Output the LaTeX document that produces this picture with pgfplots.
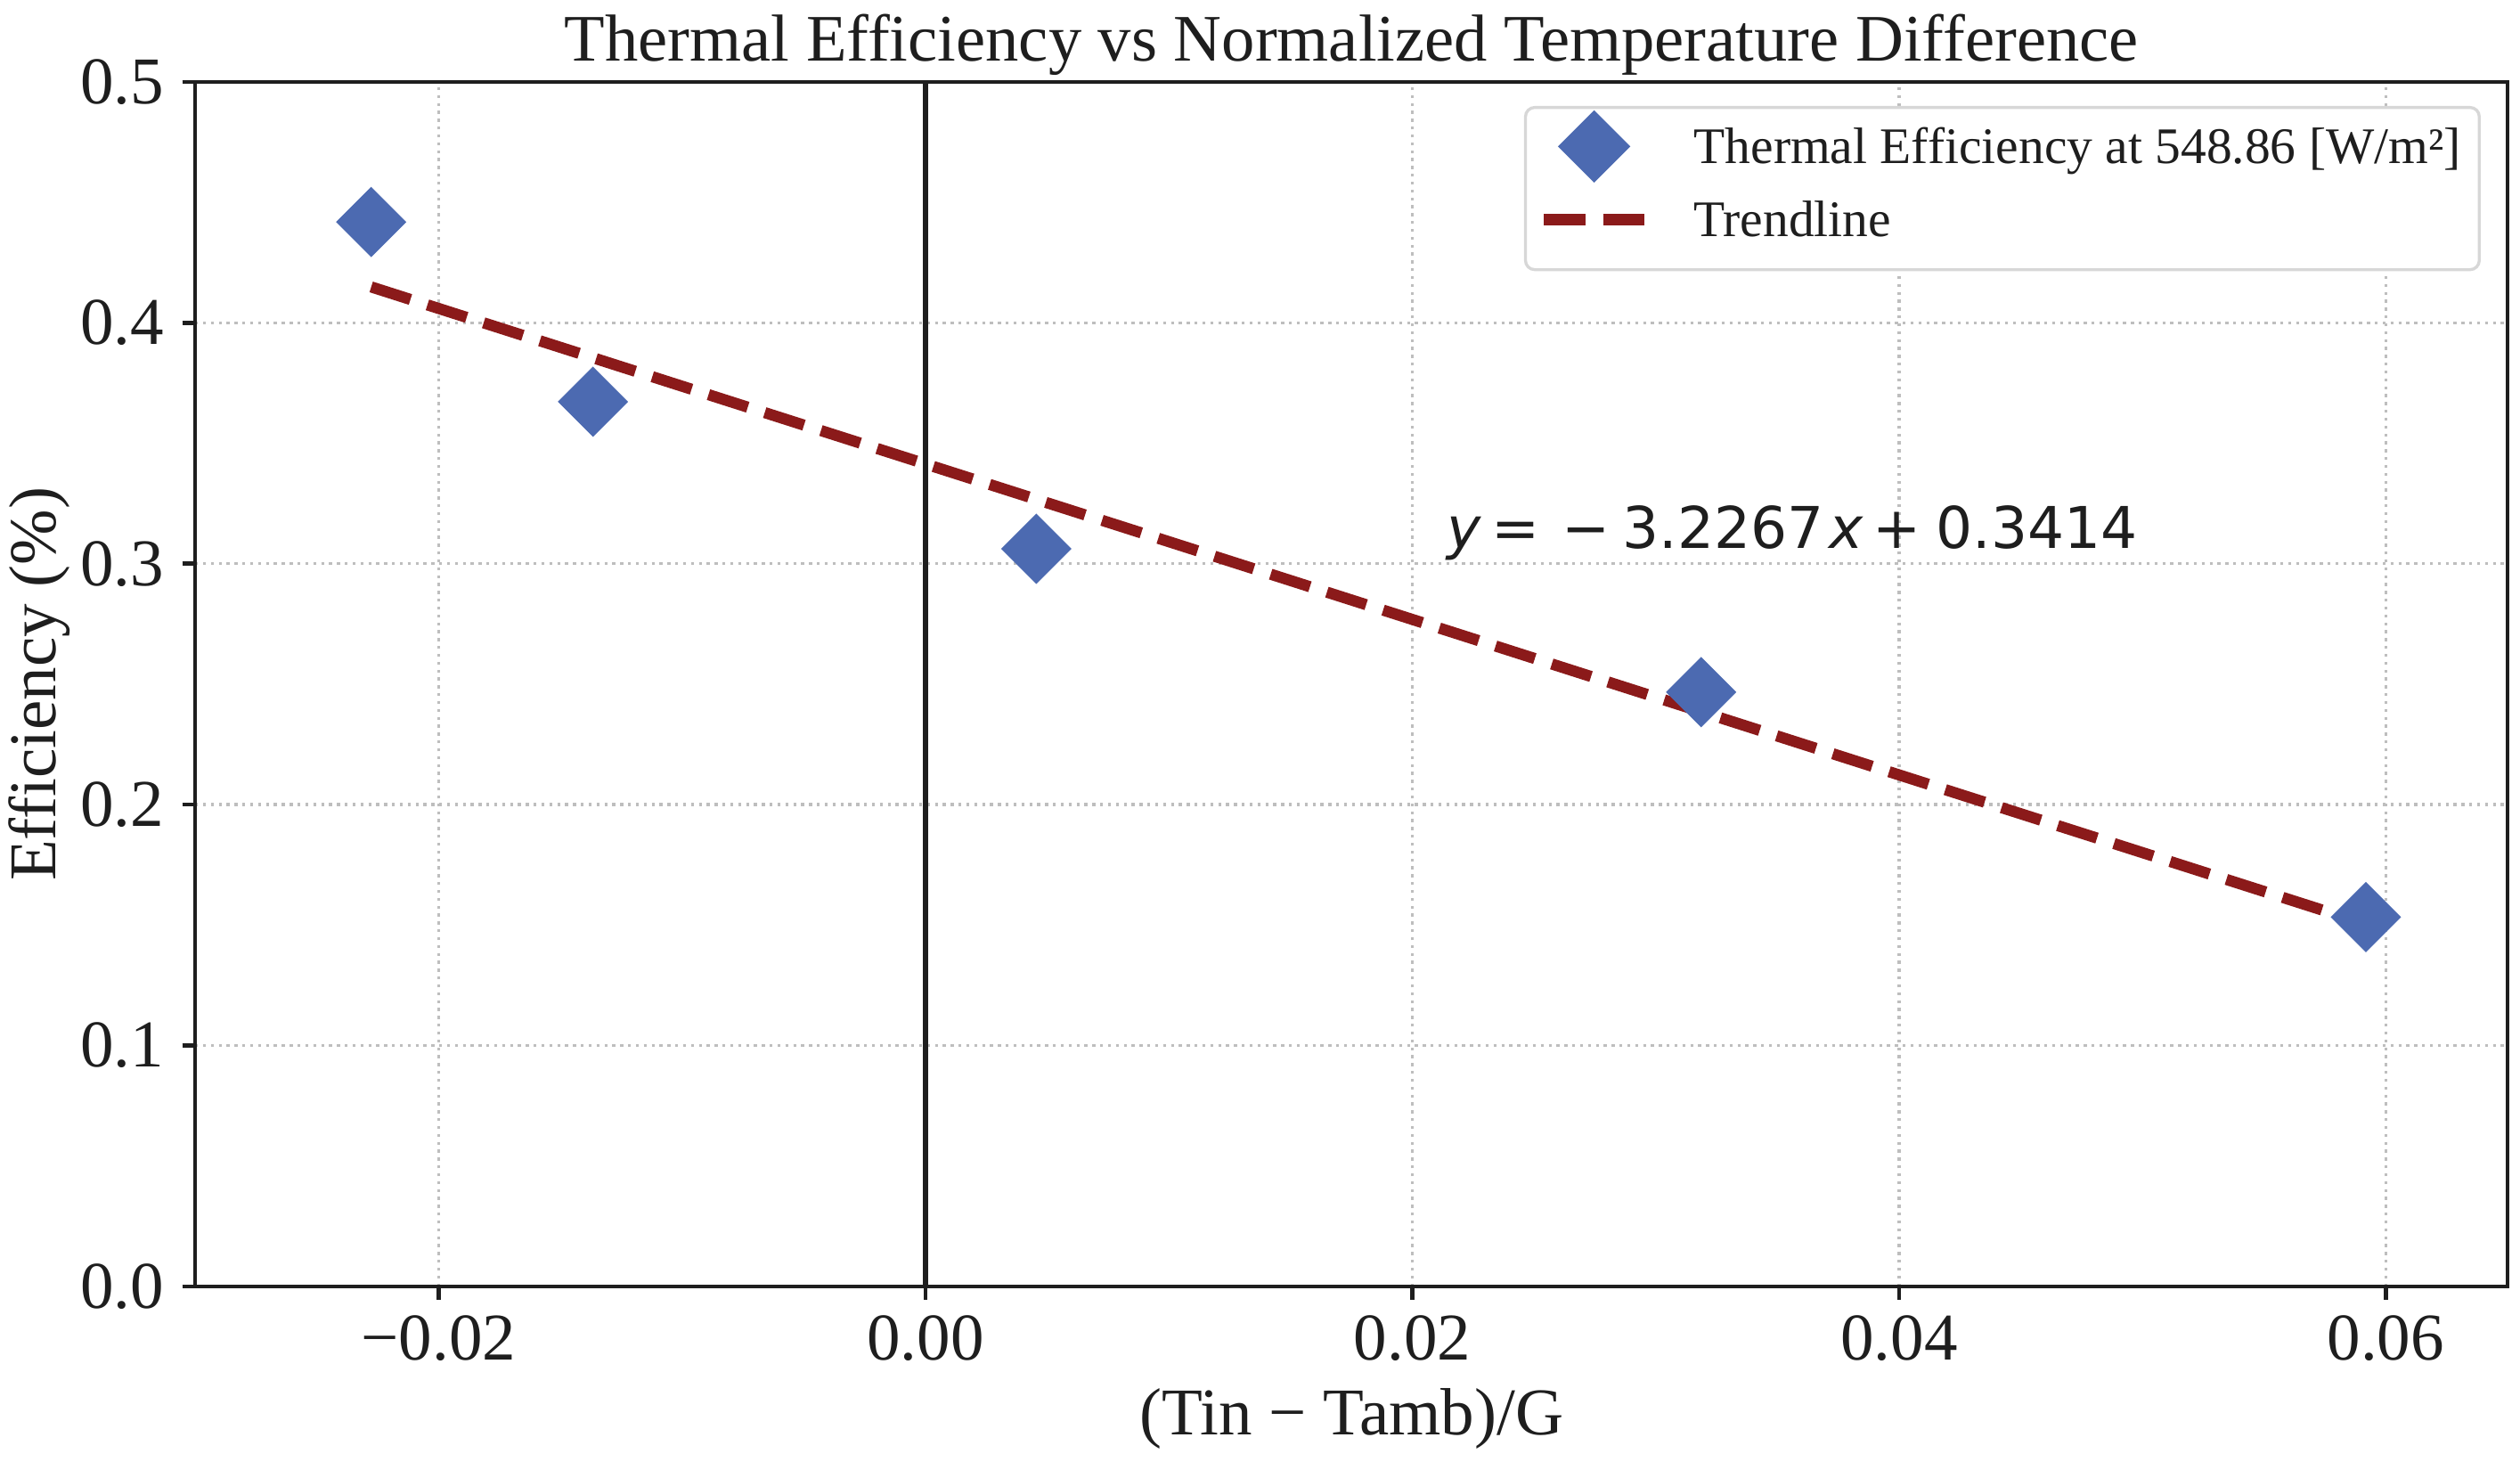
\documentclass[border=0pt]{standalone}
\usepackage{fontspec}
\setmainfont{Liberation Serif}
\newfontfamily\dejavu{DejaVu Sans}
\usepackage{pgfplots}
\pgfplotsset{compat=1.18}
\usetikzlibrary{calc}
\definecolor{ptblue}{RGB}{76,106,177}
\definecolor{trendred}{RGB}{139,26,26}
\definecolor{gridgray}{RGB}{190,190,190}
\definecolor{spine}{RGB}{30,30,30}
\definecolor{legendgray}{RGB}{215,215,215}
\pgfplotsset{
  legmark/.style={legend image code/.code={\path[draw=none,fill=none] (0pt,-3pt) rectangle (27pt,3pt);
    \draw[overlay, sharp corners, mark repeat=2, mark phase=2, ##1] plot coordinates {(0pt,1.5pt) (13.5pt,1.5pt) (27pt,1.5pt)};}},
  legline/.style={legend image code/.code={\path[draw=none,fill=none] (0pt,-3pt) rectangle (27pt,3pt);
    \draw[overlay, sharp corners, ##1] (0pt,1.5pt) -- (27pt,1.5pt);}},
}
\begin{document}
\begin{tikzpicture}
\begin{axis}[
  scale only axis,
  width=623.0pt, height=324.5pt,
  xmin=-0.03, xmax=0.065, ymin=0, ymax=0.5,
  scaled x ticks=false, scaled y ticks=false,
  axis line style={line width=1.1pt, draw=spine},
  tick pos=left, tick align=outside, major tick length=3.5pt,
  every tick/.append style={line width=1.1pt, draw=spine},
  xtick={-0.02,0,0.02,0.04,0.06},
  xticklabels={−0.02,0.00,0.02,0.04,0.06},
  ytick={0,0.1,0.2,0.3,0.4,0.5},
  yticklabels={0.0,0.1,0.2,0.3,0.4,0.5},
  xticklabel style={font=\fontsize{18}{20}\selectfont, text=spine, anchor=base, inner sep=0pt, yshift=-16.4pt},
  yticklabel style={font=\fontsize{18}{20}\selectfont, text=spine, anchor=east, inner sep=0pt, xshift=-4.7pt},
  grid=major,
  major grid style={draw=gridgray, line width=0.8pt, dash pattern=on 0.8pt off 1.32pt},
  title={Thermal Efficiency vs Normalized Temperature Difference},
  title style={at={(axis description cs:0.5,1)}, anchor=base, yshift=-0.3pt, inner sep=0pt, text=spine, font=\fontsize{17.9}{21}\selectfont},
  xlabel={(Tin − Tamb)/G},
  xlabel style={at={(axis description cs:0.5,0)}, anchor=base, yshift=-39.9pt, inner sep=0pt, text=spine, font=\fontsize{18}{21}\selectfont},
  ylabel={Efficiency (\%)},
  ylabel style={at={($(axis description cs:0,0.5)+(-37.7pt,0pt)$)}, anchor=base, inner sep=0pt, text=spine, font=\fontsize{18}{21}\selectfont},
  legend style={at={(axis description cs:1,1)}, anchor=north east, xshift=-7.2pt, yshift=-6.5pt,
    draw=legendgray, line width=0.8pt, rounded corners=2.5pt, fill=white, text=spine,
    font=\fontsize{13.8}{16}\selectfont, inner xsep=5pt, inner ysep=5.9pt, row sep=7.5pt, column sep=13.4pt,
    nodes={inner sep=0pt, text height=9.2pt, text depth=3pt, anchor=west}},
]
\addplot[spine, line width=1.4pt, forget plot] coordinates {(0,0) (0,0.5)};
\addplot[only marks, color=ptblue, mark=square*, mark size=6.5pt,
  mark options={rotate=45, fill=ptblue, draw=none}, legmark]
  coordinates {(-0.02277,0.4418) (-0.013658,0.3672) (0.004556,0.3062) (0.03187,0.2467) (0.05918,0.1533)};
\addlegendentry{Thermal Efficiency at 548.86 [W/m²]}
\addplot[trendred, line width=3pt, dash pattern=on 11.1pt off 4.8pt, legline]
  coordinates {(-0.02277,0.41487) (0.05918,0.15044)};
\addlegendentry{Trendline}
\node[anchor=base west, inner sep=0pt, text=spine, font=\dejavu\fontsize{15.5}{18}\selectfont]
  at (axis cs:0.0214,0.3063) {\textit{y}\kern2.6pt=\kern6.0pt−\kern3.4pt3.2267\kern1.5pt\textit{x}\kern2.4pt+\kern4pt0.3414};
\end{axis}
\pgfresetboundingbox
\path[use as bounding box] (current axis.south west) ++(-52.6pt,-47.06pt) rectangle ++(678.96pt,393.6pt);
\end{tikzpicture}
\end{document}
